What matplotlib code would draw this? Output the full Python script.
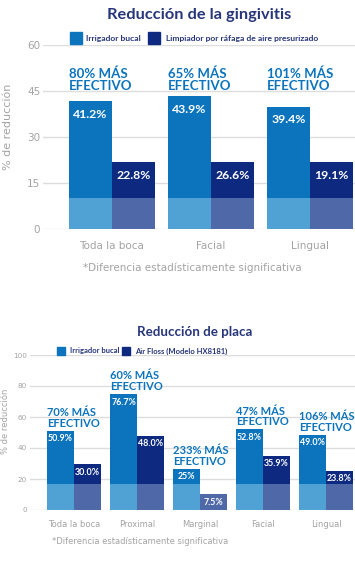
import numpy as np
import matplotlib
matplotlib.use('Agg')
from matplotlib import pyplot as plt
from matplotlib.patches import Rectangle

# %% data
gin_cats       = ['Toda la boca', 'Facial', 'Lingual']
gin_irr        = [41.6, 43.2, 39.8]   # bar heights as drawn
gin_air        = [21.6, 21.6, 21.6]
gin_irr_lab    = ['41.2%', '43.9%', '39.4%']
gin_air_lab    = ['22.8%', '26.6%', '19.1%']
gin_gain       = ['80%', '65%', '101%']
gin_ticks      = [0, 15, 30, 45, 60]
gin_band       = 10.1

pla_cats       = ['Toda la boca', 'Proximal', 'Marginal', 'Facial', 'Lingual']
pla_irr        = [51.2, 74.8, 26.5, 52.1, 48.6]
pla_air        = [29.7, 47.9, 10.3, 35.0, 25.4]
pla_irr_lab    = ['50.9%', '76.7%', '25%', '52.8%', '49.0%']
pla_air_lab    = ['30.0%', '48.0%', '7.5%', '35.9%', '23.8%']
pla_gain       = ['70%', '60%', '233%', '47%', '106%']
pla_ticks      = [0, 20, 40, 60, 80, 100]
pla_band       = 16.8

# %% style
blue, navy   = '#0b74bd', '#0e2a80'
lblue, lnavy = '#50a1d4', '#4f69a8'
tcol, gray   = '#27367a', '#a3a3a3'
thin         = ['DejaVu Sans']
plt.rcParams['font.family'] = ['Lato', 'DejaVu Sans']

W, H = 355, 570
fig = plt.figure(figsize=(W / 100, H / 100), dpi=100)


def fx(px): return px / W
def fy(py): return 1 - py / H


def legend_box(x, y, s, color):
    fig.add_artist(Rectangle((fx(x), fy(y + s)), s / W, s / H, color=color,
                             transform=fig.transFigure))


def draw(ax, irr, air, irr_lab, air_lab, cats, ticks, band, w,
         vsize, vpad, lsize):
    x = np.arange(len(cats))
    ax.bar(x - w / 2, np.minimum(irr, band), w, color=lblue, zorder=3)
    ax.bar(x + w / 2, np.minimum(air, band), w, color=lnavy, zorder=3)
    ax.bar(x - w / 2, np.maximum(np.array(irr) - band, 0), w, bottom=band,
           color=blue, zorder=3)
    ax.bar(x + w / 2, np.maximum(np.array(air) - band, 0), w, bottom=band,
           color=navy, zorder=3)
    for i in range(len(cats)):
        ax.annotate(irr_lab[i], (x[i] - w / 2, irr[i]), xytext=(0, vpad),
                    textcoords='offset points', ha='center', va='center',
                    color='white', fontsize=vsize, fontweight='bold', zorder=4)
        ax.annotate(air_lab[i], (x[i] + w / 2, air[i]), xytext=(0, vpad),
                    textcoords='offset points', ha='center', va='center',
                    color='white', fontsize=vsize, fontweight='bold', zorder=4)
    ax.set_yticks(ticks)
    ax.set_ylim(ticks[0], ticks[-1])
    ax.set_xticks(x)
    ax.set_xticklabels(cats)
    ax.yaxis.grid(True, color='#dddddd', lw=1, zorder=0)
    for s in ax.spines.values():
        s.set_visible(False)
    ax.tick_params(length=0, colors=gray, labelsize=lsize)
    for t in ax.get_xticklabels() + ax.get_yticklabels():
        t.set_family(thin)
    return x


# %% Reduccion de la gingivitis
ax1 = fig.add_axes([fx(43), fy(228.7), fx(W - 43), (228.7 - 44.7) / H])
w1 = 43 / 99
x1 = draw(ax1, gin_irr, gin_air, gin_irr_lab, gin_air_lab,
          gin_cats, gin_ticks, gin_band, w1, 8.8, -9.4, 7.5)
ax1.set_xlim(-0.697, 2.455)
ax1.tick_params(axis='x', pad=9)
ax1.tick_params(axis='y', pad=2)
for i in range(len(gin_cats)):
    ax1.text(x1[i] - w1, 44.6, gin_gain[i] + ' MÁS\nEFECTIVO', ha='left',
             va='bottom', color=blue, fontsize=9.5, fontweight='bold',
             linespacing=0.95)

fig.text(fx(199), fy(15), 'Reducción de la gingivitis', ha='center',
         va='center', color=tcol, fontsize=11.8, fontweight='bold')
legend_box(70, 32, 12, blue)
fig.text(fx(86), fy(38.5), 'Irrigador bucal', va='center', color=tcol,
         fontsize=6.1, fontweight='bold')
legend_box(148, 32, 12, navy)
fig.text(fx(166), fy(38.5), 'Limpiador por ráfaga de aire presurizado',
         va='center', color=tcol, fontsize=6.1, fontweight='bold')
fig.text(fx(8), fy(126.5), '% de reducción', rotation=90, ha='center',
         va='center', color=gray, fontsize=8, family=thin)
fig.text(fx(192.5), fy(267.7), '*Diferencia estadísticamente significativa',
         ha='center', va='center', color=gray, fontsize=7.5, family=thin)

# %% Reduccion de placa
ax2 = fig.add_axes([fx(30), fy(510), fx(W - 30), 155 / H])
w2 = 27 / 63
x2 = draw(ax2, pla_irr, pla_air, pla_irr_lab, pla_air_lab,
          pla_cats, pla_ticks, pla_band, w2, 6.4, -5.8, 6)
ax2.set_xlim(-0.698, 4.46)
ax2.tick_params(axis='x', pad=7)
ax2.tick_params(axis='y', pad=2, labelsize=5.2)
for i in range(len(pla_cats)):
    ax2.annotate(pla_gain[i] + ' MÁS\nEFECTIVO', (x2[i] - w2, pla_irr[i]),
                 xytext=(0, 1.5), textcoords='offset points', ha='left',
                 va='bottom', color=blue, fontsize=8, fontweight='bold',
                 linespacing=0.95)

fig.text(fx(195), fy(331.7), 'Reducción de placa', ha='center',
         va='center', color=tcol, fontsize=9.6, fontweight='bold')
legend_box(57, 347, 8, blue)
fig.text(fx(70), fy(351), 'Irrigador bucal', va='center', color=tcol,
         fontsize=5.5, fontweight='bold')
legend_box(122, 347, 8, navy)
fig.text(fx(135), fy(351), 'Air Floss (Modelo HX8181)', va='center',
         color=tcol, fontsize=5.5, fontweight='bold')
fig.text(fx(6), fy(421), '% de reducción', rotation=90, ha='center',
         va='center', color=gray, fontsize=6, family=thin)
fig.text(fx(140), fy(542), '*Diferencia estadísticamente significativa',
         ha='center', va='center', color=gray, fontsize=6, family=thin)

fig.savefig('out.png', dpi=100)
